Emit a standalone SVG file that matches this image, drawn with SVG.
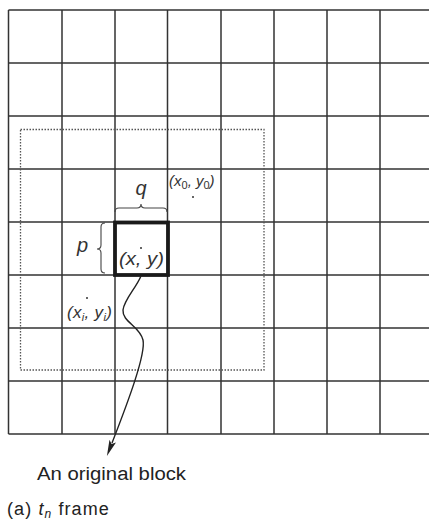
<svg xmlns="http://www.w3.org/2000/svg" width="429" height="523" viewBox="0 0 429 523">
<style>
.g{stroke:#333;stroke-width:1.5;fill:none}
.t{font-family:"Liberation Sans",Arial,sans-serif;fill:#222}
.m{font-family:"Liberation Sans",Arial,sans-serif;font-style:italic;fill:#333}
.br{stroke:#444;stroke-width:1.1;fill:none}
</style>
<defs>
<marker id="ah" viewBox="0 0 16 8" refX="2" refY="4" markerWidth="16" markerHeight="8" markerUnits="userSpaceOnUse" orient="auto">
<path d="M0,0.5 L16,4 L0,7.5 L3,4 Z" fill="#222"/>
</marker>
</defs>
<rect width="429" height="523" fill="#fff"/>
<g id="grid" class="g">
<path d="M8.5,10V434M62,10V434M115,10V434M167.5,10V434M221,10V434M274,10V434M327,10V434M380,10V434"/>
<path d="M8.5,10H429M8.5,63H429M8.5,116H429M8.5,169H429M8.5,222H429M8.5,275H429M8.5,328H429M8.5,381H429M8.5,434H429"/>
</g>
<g id="search-window">
<rect x="20.5" y="129.5" width="243.5" height="240.5" fill="none" stroke="#555" stroke-width="1.3" stroke-dasharray="1.5 1.5"/>
</g>
<g id="block">
<rect x="115" y="222.5" width="53" height="52.5" fill="none" stroke="#1a1a1a" stroke-width="3.8"/>
<circle cx="141" cy="248" r="1" fill="#333"/>
<text class="m" x="119" y="265" font-size="18" textLength="45" lengthAdjust="spacingAndGlyphs">(x, y)</text>
</g>
<g id="brace-q">
<path class="br" d="M115,212 Q115,208 119,208 L137,208 Q141,208 141,204 Q141,208 145,208 L163,208 Q167,208 167,212"/>
<text class="m" x="141" y="195" font-size="20" text-anchor="middle">q</text>
</g>
<g id="brace-p">
<path class="br" d="M105,223 Q101,223 101,227 L101,245 Q101,249 97,249 Q101,249 101,253 L101,269 Q101,273 105,273"/>
<text class="m" x="77" y="252" font-size="20">p</text>
</g>
<g id="point-0">
<text class="m" x="169" y="186" font-size="15">(x<tspan font-style="normal" font-size="11" dy="3">0</tspan><tspan dy="-3">, y</tspan><tspan font-style="normal" font-size="11" dy="3">0</tspan><tspan dy="-3">)</tspan></text>
<circle cx="193" cy="197" r="1" fill="#333"/>
</g>
<g id="point-i">
<text class="m" x="67" y="318" font-size="17" letter-spacing="0.3">(x<tspan font-size="11" dy="3">i</tspan><tspan dy="-3">, y</tspan><tspan font-size="11" dy="3">i</tspan><tspan dy="-3">)</tspan></text>
<circle cx="87" cy="298" r="1" fill="#333"/>
</g>
<g id="connectors">
<path d="M141,276 C136,288 124,300 123,310 C122,322 140,326 143,340 C146,354 128,402 112,443" fill="none" stroke="#222" stroke-width="1.4" marker-end="url(#ah)"/>
</g>
<g id="labels">
<text class="t" x="37" y="480" font-size="18" textLength="149" lengthAdjust="spacingAndGlyphs">An original block</text>
<text class="t" x="7" y="515" font-size="18" letter-spacing="1.1">(a) <tspan font-style="italic">t</tspan><tspan font-style="italic" font-size="12" dy="3">n</tspan><tspan dy="-3"> frame</tspan></text>
</g>
</svg>
